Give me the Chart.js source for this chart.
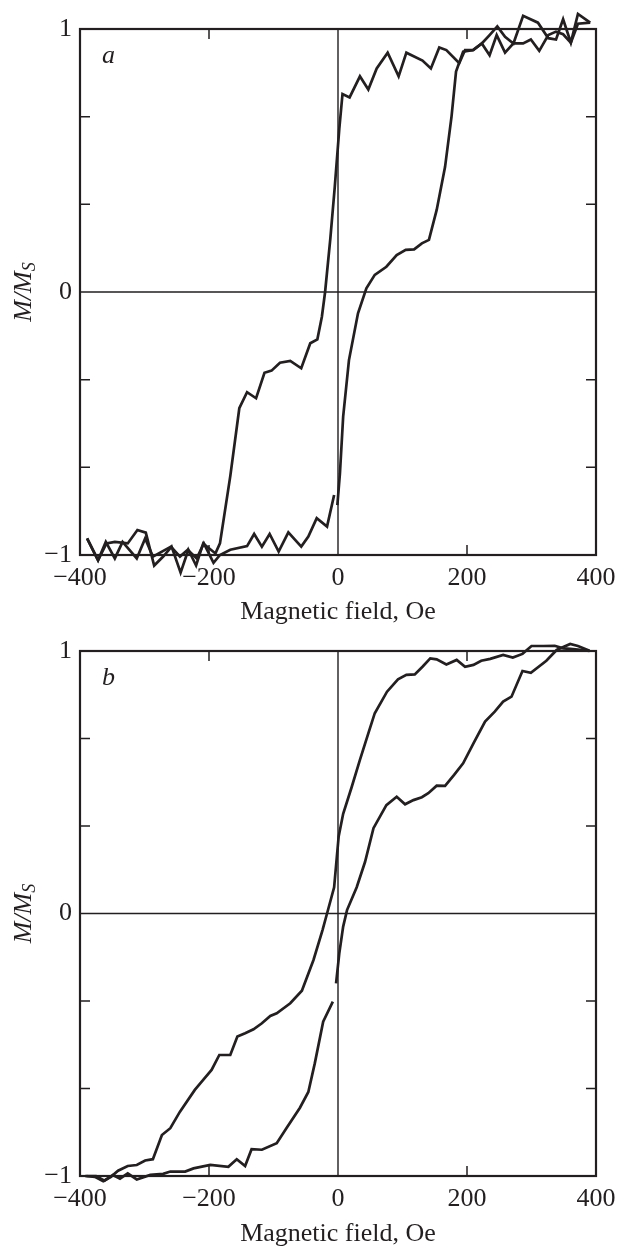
<!DOCTYPE html>
<html>
<head>
<meta charset="utf-8">
<script src="https://cdn.jsdelivr.net/npm/chart.js@4.4.1/dist/chart.umd.min.js"></script>
<style>
  html, body { margin: 0; padding: 0; background: #fff; overflow: hidden; }
  body { width: 627px; height: 1246px; position: relative; }
  .panel { position: absolute; left: 0; width: 627px; height: 640px; }
  #panelA { top: 0; }
  #panelB { top: 620px; }
</style>
</head>
<body>
<div class="panel" id="panelA"><canvas id="chartA"></canvas></div>
<div class="panel" id="panelB"><canvas id="chartB"></canvas></div>
<script>
'use strict';

// panel a, sweep +400 -> -400 Oe
const aDownField = [391, 372, 361, 349, 338, 326, 310, 287, 272, 259,
  247, 235, 223, 209, 197, 188, 168, 157, 144, 131,
  106, 94, 77, 60, 47, 34, 18, 7, 2, -5,
  -12, -20, -25, -32, -43, -57, -74, -90, -103, -114,
  -127, -141, -153, -167, -183, -190, -209, -220, -232, -244,
  -258, -271, -285, -298, -311, -326, -346, -359, -372, -389];
const aDownM = [1.024, 1.057, 0.948, 1.037, 0.96, 0.965, 1.024, 1.05, 0.945, 0.97,
  1.01, 0.977, 0.945, 0.92, 0.92, 0.87, 0.92, 0.93, 0.85, 0.88,
  0.91, 0.82, 0.91, 0.85, 0.77, 0.82, 0.74, 0.753, 0.62, 0.40,
  0.2, 0.0, -0.094, -0.18, -0.195, -0.29, -0.262, -0.269, -0.299, -0.307,
  -0.404, -0.381, -0.442, -0.70, -0.956, -0.994, -0.956, -1.04, -0.98, -1.067,
  -0.968, -1.006, -1.04, -0.915, -0.905, -0.956, -0.95, -0.956, -1.02, -0.937];

// panel a, sweep -400 -> +400 Oe (null = break in the record near 0)
const aUpField = [-389, -372, -360, -346, -334, -312, -299, -287, -259, -245,
  -233, -219, -208, -193, -183, -167, -141, -130, -118, -106,
  -92, -77, -57, -46, -33, -17, -6, -3,
  -1, 3, 8, 17, 31, 44, 57, 75, 91, 105,
  118, 130, 141, 153, 166, 176, 183, 194, 210, 223,
  235, 246, 259, 272, 287, 299, 312, 326, 338, 349,
  361, 372, 391];
const aUpM = [-0.937, -1.02, -0.95, -1.013, -0.95, -1.013, -0.937, -1.006, -0.968, -1.006,
  -0.98, -1.013, -0.956, -1.03, -1.0, -0.98, -0.966, -0.92, -0.968, -0.92,
  -0.987, -0.914, -0.968, -0.93, -0.86, -0.892, -0.772, null,
  -0.81, -0.69, -0.474, -0.259, -0.081, 0.014, 0.065, 0.096, 0.14, 0.16,
  0.162, 0.185, 0.198, 0.312, 0.476, 0.667, 0.838, 0.914, 0.92, 0.945,
  0.90, 0.977, 0.91, 0.945, 0.945, 0.96, 0.917, 0.977, 0.99, 0.98,
  0.948, 1.02, 1.024];

// panel b, sweep +400 -> -400 Oe
const bDownField = [390, 372, 360, 349, 336, 318, 300, 286, 271, 256,
  236, 222, 210, 197, 184, 168, 153, 143, 131, 119,
  106, 93, 76, 57, 47, 34, 21, 8, 1, -6,
  -17, -24, -38, -56, -74, -95, -105, -118, -131, -144,
  -156, -167, -184, -196, -209, -222, -245, -260, -273, -287,
  -299, -312, -326, -341, -352, -364, -377, -392];
const bDownM = [1.0, 1.005, 1.008, 1.01, 1.02, 1.019, 1.019, 0.989, 0.975, 0.985,
  0.97, 0.963, 0.947, 0.94, 0.966, 0.949, 0.968, 0.972, 0.94, 0.911,
  0.909, 0.892, 0.845, 0.763, 0.686, 0.585, 0.48, 0.38, 0.293, 0.10,
  0.0, -0.063, -0.177, -0.294, -0.342, -0.38, -0.39, -0.418, -0.441, -0.456,
  -0.469, -0.539, -0.539, -0.596, -0.634, -0.672, -0.755, -0.818, -0.844, -0.936,
  -0.941, -0.958, -0.962, -0.98, -1.003, -1.02, -1.003, -1.0];

// panel b, sweep -400 -> +400 Oe
const bUpField = [-390, -375, -362, -349, -338, -326, -312, -291, -271, -260,
  -237, -224, -198, -170, -157, -144, -134, -118, -95, -80,
  -59, -46, -36, -23, -8, -5,
  -3, 2, 8, 14, 29, 42, 55, 75, 91, 104,
  117, 130, 140, 153, 166, 180, 194, 210, 228, 243,
  256, 269, 286, 299, 323, 339, 360, 372, 390];
const bUpM = [-1.0, -1.0, -1.018, -0.996, -1.01, -0.99, -1.013, -0.996, -0.992, -0.983,
  -0.983, -0.971, -0.958, -0.965, -0.936, -0.962, -0.898, -0.90, -0.875, -0.818,
  -0.74, -0.68, -0.571, -0.412, -0.336, null,
  -0.266, -0.152, -0.05, 0.013, 0.10, 0.197, 0.325, 0.413, 0.445, 0.416,
  0.432, 0.443, 0.458, 0.487, 0.486, 0.528, 0.572, 0.648, 0.731, 0.769,
  0.807, 0.826, 0.924, 0.917, 0.963, 1.004, 1.027, 1.019, 1.001];

const xTicks = [-400, -200, 0, 200, 400];
const yTicks = [-1, -2 / 3, -1 / 3, 0, 1 / 3, 2 / 3, 1];
const yLabels = ['\u22121', '', '', '0', '', '', '1'];
const xTitle = 'Magnetic field, Oe';

const INK = '#231f20';
const SERIF = '"Liberation Serif", "Times New Roman", serif';

const framePlugin = {
  id: 'frame',
  beforeDatasetsDraw(chart) {
    const {ctx, chartArea: a, scales: {x, y}} = chart;
    ctx.save();
    ctx.strokeStyle = INK;
    ctx.lineWidth = 1.4;
    const x0 = x.getPixelForValue(0);
    const y0 = y.getPixelForValue(0);
    ctx.beginPath();
    ctx.moveTo(x0, a.top); ctx.lineTo(x0, a.bottom);
    ctx.moveTo(a.left, y0); ctx.lineTo(a.right, y0);
    ctx.stroke();
    ctx.restore();
  },
  afterDatasetsDraw(chart, args, opts) {
    const {ctx, chartArea: a, scales: {x, y}} = chart;
    ctx.save();
    ctx.strokeStyle = INK;
    ctx.lineWidth = 2.2;
    ctx.strokeRect(a.left, a.top, a.right - a.left, a.bottom - a.top);

    // inward tick marks
    ctx.lineWidth = 1.5;
    ctx.beginPath();
    yTicks.forEach(v => {
      if (v === 0 || Math.abs(v) === 1) return;
      const py = y.getPixelForValue(v);
      ctx.moveTo(a.left, py); ctx.lineTo(a.left + 10, py);
      ctx.moveTo(a.right, py); ctx.lineTo(a.right - 10, py);
    });
    xTicks.forEach(v => {
      if (v === 0 || Math.abs(v) === 400) return;
      const px = x.getPixelForValue(v);
      ctx.moveTo(px, a.top); ctx.lineTo(px, a.top + 10);
      ctx.moveTo(px, a.bottom); ctx.lineTo(px, a.bottom - 10);
    });
    ctx.stroke();

    // panel letter
    ctx.fillStyle = INK;
    ctx.font = 'italic 26px ' + SERIF;
    ctx.textBaseline = 'alphabetic';
    ctx.textAlign = 'left';
    ctx.fillText(opts.letter, a.left + 22, a.top + 34);

    // y title M/M_S
    const big = 'italic 26px ' + SERIF;
    const small = 'italic 18px ' + SERIF;
    ctx.font = big;
    const w1 = ctx.measureText('M/M').width;
    ctx.font = small;
    const w2 = ctx.measureText('S').width;
    ctx.translate(24, (a.top + a.bottom) / 2);
    ctx.rotate(-Math.PI / 2);
    ctx.textBaseline = 'middle';
    ctx.font = big;
    ctx.fillText('M/M', -(w1 + w2) / 2, 0);
    ctx.font = small;
    ctx.fillText('S', -(w1 + w2) / 2 + w1, 6);
    ctx.restore();
  }
};

function toPoints(xs, ys) {
  return xs.map((v, i) => ({x: v, y: ys[i]}));
}

function fmt(v) {
  return v < 0 ? '\u2212' + Math.abs(v) : String(v);
}

function makePanel(canvasId, letter, downField, downM, upField, upM, top, bottom, titlePad) {
  const line = {
    showLine: true,
    borderColor: INK,
    borderWidth: 2.7,
    pointRadius: 0,
    tension: 0,
    spanGaps: false,
    clip: false
  };
  return new Chart(document.getElementById(canvasId), {
    type: 'scatter',
    data: {
      datasets: [
        Object.assign({data: toPoints(downField, downM)}, line),
        Object.assign({data: toPoints(upField, upM)}, line)
      ]
    },
    options: {
      responsive: true,
      maintainAspectRatio: false,
      animation: false,
      events: [],
      layout: {padding: {top: top, right: 31, left: 0, bottom: 0}},
      plugins: {
        legend: {display: false},
        tooltip: {enabled: false},
        frame: {letter: letter}
      },
      scales: {
        x: {
          type: 'linear', min: -400, max: 400,
          grid: {display: false, drawTicks: false},
          border: {display: false},
          afterBuildTicks: s => { s.ticks = xTicks.map(v => ({value: v})); },
          afterFit: s => { s.height = 640 - bottom; },
          ticks: {
            autoSkip: false, maxRotation: 0, color: INK, padding: 8,
            font: {family: SERIF, size: 26},
            callback: v => fmt(v)
          },
          title: {
            display: true, text: xTitle, color: INK,
            font: {family: SERIF, size: 26},
            padding: {top: 0, bottom: titlePad}
          }
        },
        y: {
          type: 'linear', min: -1, max: 1,
          grid: {display: false, drawTicks: false},
          border: {display: false},
          afterBuildTicks: s => { s.ticks = yTicks.map(v => ({value: v})); },
          afterFit: s => { s.width = 80; },
          ticks: {
            autoSkip: false, color: INK, padding: 8,
            font: {family: SERIF, size: 26},
            callback: (v, i) => yLabels[i]
          }
        }
      }
    },
    plugins: [framePlugin]
  });
}

makePanel('chartA', 'a', aDownField, aDownM, aUpField, aUpM, 29, 555, 12);
makePanel('chartB', 'b', bDownField, bDownM, bUpField, bUpM, 31, 556, 10);
</script>
</body>
</html>
